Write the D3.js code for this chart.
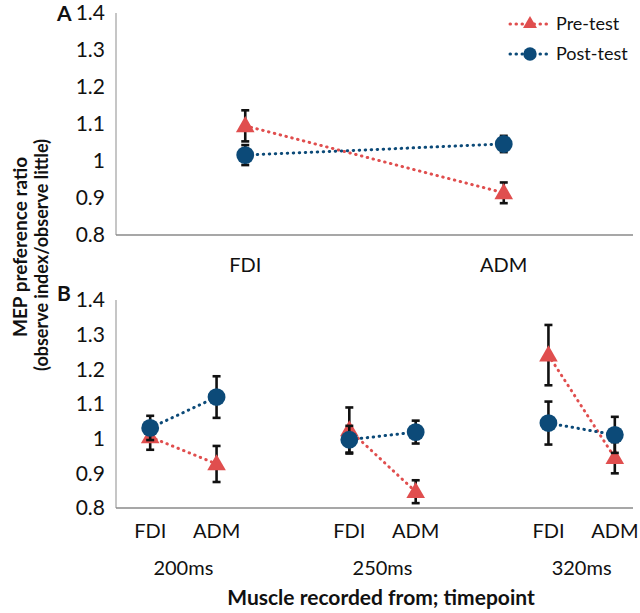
<!DOCTYPE html>
<html>
<head>
<meta charset="utf-8">
<script src="https://cdn.jsdelivr.net/npm/d3@7"></script>
<style>
  body { margin: 0; background: #fff; }
  text { font-family: Lato, "Open Sans", sans-serif; fill: #111; }
</style>
</head>
<body>
<div id="chart-area"></div>
<script>
// panel A: pooled over timepoints
let musclesA = ["FDI", "ADM"];
let preA = [1.095, 0.914];
let preAErr = [0.042, 0.028];
let postA = [1.016, 1.046];
let postAErr = [0.027, 0.022];

// panel B: by timepoint
let timepoints = ["200ms", "250ms", "320ms"];
let muscles = ["FDI", "ADM"];
let preB = [[1.005, 0.927], [1.025, 0.847], [1.241, 0.945]];
let preBErr = [[0.037, 0.052], [0.065, 0.033], [0.087, 0.045]];
let postB = [[1.031, 1.12], [0.997, 1.019], [1.045, 1.011]];
let postBErr = [[0.035, 0.06], [0.04, 0.033], [0.062, 0.052]];

let yTicks = [0.8, 0.9, 1, 1.1, 1.2, 1.3, 1.4];
let seriesNames = ["Pre-test", "Post-test"];

let width = 640, height = 613;
let red = "#e04e4e", blue = "#0c4a78";

let svg = d3.select("#chart-area").append("svg")
    .attr("width", width)
    .attr("height", height);

let left = 116, right = 633;

let yA = d3.scaleLinear().domain([0.8, 1.4]).range([235, 13]);
let yB = d3.scaleLinear().domain([0.8, 1.4]).range([508, 300]);

let xA = d3.scaleBand().domain(musclesA).range([left, right]);

// 8 slots: FDI ADM gap FDI ADM gap FDI ADM (+ overflow)
let slots = [];
timepoints.forEach((t, i) => {
    muscles.forEach(m => slots.push(t + "|" + m));
    if (i < timepoints.length - 1) slots.push("gap" + i);
});
let xB = d3.scaleBand().domain(slots).range([left + 1, 648]);

let tickFmt = d => d === 1 ? "1" : d3.format(".1f")(d);

function yAxis(y) {
    let g = svg.append("g")
        .attr("transform", "translate(" + left + ",0)")
        .call(d3.axisLeft(y).tickValues(yTicks).tickSize(0).tickPadding(11).tickFormat(tickFmt));
    g.select(".domain").remove();
    g.selectAll("text").style("font-size", "21px").style("font-family", "Lato, sans-serif").attr("fill", "#111");
    svg.append("line")
        .attr("x1", left).attr("x2", left)
        .attr("y1", y(1.4)).attr("y2", y(0.8))
        .attr("stroke", "#a8a8a8").attr("stroke-width", 1.3);
    svg.append("line")
        .attr("x1", left).attr("x2", right)
        .attr("y1", y(0.8)).attr("y2", y(0.8))
        .attr("stroke", "#8a8a8a").attr("stroke-width", 1.5);
}
yAxis(yA);
yAxis(yB);

let tri = d3.symbol().type(d3.symbolTriangle).size(150);
let circ = d3.symbol().type(d3.symbolCircle).size(250);

function drawSeries(pts, color, sym) {
    // pts: array of groups, each group [{x, y, top, bot}]
    let line = d3.line().x(d => d.x).y(d => d.y);
    pts.forEach(grp => {
        svg.append("path")
            .attr("d", line(grp))
            .attr("fill", "none")
            .attr("stroke", color)
            .attr("stroke-width", 3)
            .attr("stroke-linecap", "round")
            .attr("stroke-dasharray", "0.5,5.5");
        grp.forEach(d => {
            let eb = svg.append("g").attr("stroke", "#111").attr("stroke-width", 2.6);
            eb.append("line").attr("x1", d.x).attr("x2", d.x).attr("y1", d.top).attr("y2", d.bot);
            eb.append("line").attr("x1", d.x - 4).attr("x2", d.x + 4).attr("y1", d.top).attr("y2", d.top);
            eb.append("line").attr("x1", d.x - 4).attr("x2", d.x + 4).attr("y1", d.bot).attr("y2", d.bot);
        });
        grp.forEach(d => {
            svg.append("path")
                .attr("d", sym())
                .attr("transform", "translate(" + d.x + "," + (d.y + (sym === tri ? 1 : 0)) + ")")
                .attr("fill", color);
        });
    });
}

function ptsA(vals, errs) {
    return [musclesA.map((m, i) => ({
        x: xA(m) + xA.bandwidth() / 2,
        y: yA(vals[i]), top: yA(vals[i] + errs[i]), bot: yA(vals[i] - errs[i])
    }))];
}
function ptsB(vals, errs) {
    return timepoints.map((t, ti) => muscles.map((m, mi) => ({
        x: xB(t + "|" + m) + xB.bandwidth() / 2,
        y: yB(vals[ti][mi]), top: yB(vals[ti][mi] + errs[ti][mi]), bot: yB(vals[ti][mi] - errs[ti][mi])
    })));
}

drawSeries(ptsA(preA, preAErr), red, tri);
drawSeries(ptsA(postA, postAErr), blue, circ);
drawSeries(ptsB(preB, preBErr), red, tri);
drawSeries(ptsB(postB, postBErr), blue, circ);

// category labels
svg.selectAll(".catA").data(musclesA).enter().append("text")
    .attr("x", d => xA(d) + xA.bandwidth() / 2)
    .attr("y", 265).attr("dy", "0.35em")
    .attr("text-anchor", "middle").style("font-size", "20px")
    .text(d => d);

timepoints.forEach(t => {
    muscles.forEach(m => {
        svg.append("text")
            .attr("x", xB(t + "|" + m) + xB.bandwidth() / 2)
            .attr("y", 531).attr("dy", "0.35em")
            .attr("text-anchor", "middle").style("font-size", "20px")
            .text(m);
    });
    svg.append("text")
        .attr("x", (xB(t + "|FDI") + xB(t + "|ADM")) / 2 + xB.bandwidth() / 2)
        .attr("y", 568).attr("dy", "0.35em")
        .attr("text-anchor", "middle").style("font-size", "20px")
        .text(t);
});

// axis titles
svg.append("text")
    .attr("x", 381).attr("y", 598).attr("dy", "0.35em")
    .attr("text-anchor", "middle").style("font-size", "21px").style("font-weight", "bold")
    .text("Muscle recorded from; timepoint");

svg.append("text")
    .attr("transform", "translate(20,247) rotate(-90)")
    .attr("dy", "0.35em")
    .attr("text-anchor", "middle").style("font-size", "19px").style("font-weight", "bold")
    .text("MEP preference ratio");
svg.append("text")
    .attr("transform", "translate(42,255) rotate(-90)")
    .attr("dy", "0.35em")
    .attr("text-anchor", "middle").style("font-size", "18px").style("font-weight", "bold")
    .text("(observe index/observe little)");

// panel letters
svg.append("text").attr("x", 57).attr("y", 14).attr("dy", "0.35em")
    .style("font-size", "21px").style("font-weight", "bold").text("A");
svg.append("text").attr("x", 57).attr("y", 294).attr("dy", "0.35em")
    .style("font-size", "21px").style("font-weight", "bold").text("B");

// legend
let legend = svg.append("g");
seriesNames.forEach((name, i) => {
    let ly = 24 + i * 30;
    let color = i === 0 ? red : blue;
    legend.append("line")
        .attr("x1", 510).attr("x2", 548).attr("y1", ly).attr("y2", ly)
        .attr("stroke", color).attr("stroke-width", 3)
        .attr("stroke-linecap", "round").attr("stroke-dasharray", "0.5,5.5");
    legend.append("path")
        .attr("d", (i === 0 ? tri : circ)())
        .attr("transform", "translate(530," + ly + ") scale(0.75)")
        .attr("fill", color);
    legend.append("text")
        .attr("x", 556).attr("y", ly).attr("dy", "0.35em")
        .style("font-size", "18px").text(name);
});
</script>
</body>
</html>
